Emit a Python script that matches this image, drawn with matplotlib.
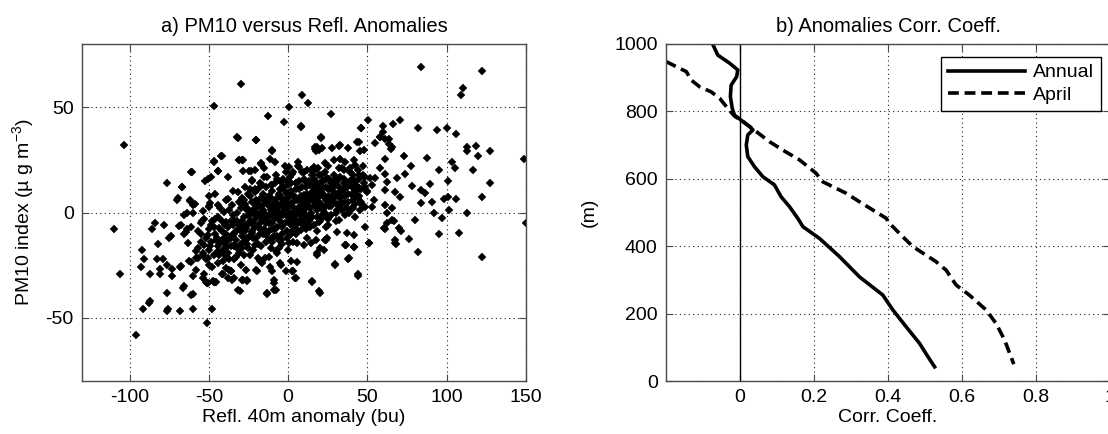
import matplotlib
matplotlib.use("Agg")
import matplotlib.pyplot as plt
import numpy as np

plt.rcParams['font.family'] = ['Liberation Sans', 'DejaVu Sans']
plt.rcParams['mathtext.fontset'] = 'custom'
plt.rcParams['mathtext.rm'] = 'Liberation Sans'
plt.rcParams['axes.unicode_minus'] = False

## panel a) scatter, (refl. anomaly [bu], PM10 index)
outlier_pts = [
    (-110, -7.8), (-106, -29), (-103.5, 32), (-96, -58), (-92, -18), (-91, -22), (-92.5, -26),
    (-91.5, -46), (-87.5, -43), (-87, -42), (-87, -29), (-86, -8), (-84, -5), (-83, -22),
    (-82, -15), (-81, -27), (-80.5, -29), (-79, -22), (-78, -6), (-76.6, -25), (-76.4, -38),
    (-76.4, -47), (-76.4, 14), (-75.7, -46), (-75, -12), (-74, -11), (-73, -30), (-73.5, -27),
    (-70, 6), (-69, -6.5), (-68, -47), (-68, -26), (-67, 12), (-66, -36), (-65.5, -10), (-64, -8),
    (-64, 0), (-62.6, -23), (-62, 6), (-61, -39), (-61, 19), (-60, -46), (-59.7, -30), (-60, 0),
    (-59, 4), (-58, -21.5), (-57, -17), (-55, -10), (-54.5, -4), (-54, -20), (-53, -29),
    (-52.7, 15), (-52, -33), (-51, -52.5), (-51, -33.6), (-49, 4.6), (-48, -45.6), (-47, 50.7),
    (-47, 24), (-47, -33), (-46, -33), (-44.5, 19.6), (-42.5, 27), (-41, -29), (-40, -19),
    (-37, -27.5), (-35.5, -32), (-32, 36), (-30.5, -37.5), (-30, 61), (-31, 25), (-29, 25),
    (-28.5, -32), (-26, -32.7), (-24.4, 19.5), (-20, 34.5), (-19.7, -27.6), (-17.4, 23),
    (-13.5, -38.5), (-13, 46), (-14.7, -21.7), (-11.5, -25.7), (-10, 29), (-9, -33.4),
    (-7.7, -37), (-5, -24), (-2.7, 43), (0.5, 50), (2, -23), (3, -28), (4.7, -31), (8, 41),
    (9, 56), (12.4, 52), (15, -33), (16.7, 30), (18.3, -20), (20, -38), (21, 35.7), (23.5, -13),
    (27, 46.6), (29.4, -25), (33, 32), (36.6, -15.5), (38, -22), (41.4, -16.6), (44, -30),
    (46, 40), (50.4, 44), (51, -14.3), (58, 36), (60, 41), (61, -8), (63.5, 35), (64.6, 30),
    (66, 42), (66.5, -4), (68, -15), (71, -8.6), (70.8, 44), (73, 27), (76.4, -12.5), (77.5, 22),
    (77.8, 12.8), (80, -3.6), (81.6, 40), (82, -18.7), (84, 69), (84, 4.6), (86, 9.4), (87.7, 26),
    (89.5, 13.6), (91, 5), (91.8, 0), (93.6, 39), (95, -10), (97, -2.5), (100, 40), (101, 7.3),
    (101.7, 1), (103.3, 24), (105, 21), (106, 6.2), (106, 37.4), (108, -9.8), (109, 56), (110, 59),
    (113, 29), (113, 31), (112.8, 0), (116.4, 20), (118.7, 31.5), (120, 27), (122, 67), (122, 7.3),
    (122.5, -21), (127, 13.8), (127, 29.3), (149, 25.5), (150, -5), (6.5, 22), (17, 31),
    (44.8, 33.4), (54.7, 33), (74, 18.4), (84, 10.8), (95, 20), (98.6, 6.5), (101, 15),
]

left_cloud_pts = [
    (-31.9, 35.6), (-20.4, 34.6), (-10.4, 29.6), (-41.8, 26.9), (-46.6, 24.4), (-30.9, 24.9),
    (-28.2, 24.9), (-11.6, 25.3), (-60.6, 19), (-44.5, 19.8), (-28.4, 19.8), (-23.6, 19.8),
    (-17.3, 23.3), (-38.2, 17), (-50.4, 16), (-48.7, 17), (-13.1, 17), (-7.9, 18), (-1.6, 19.3),
    (-66.9, 11.9), (-22.5, 15.4), (-24.2, 11.1), (-21, 9.9), (-16.2, 13), (-9.9, 13), (-4.7, 14.6),
    (-69.6, 6.7), (-61.7, 5.4), (-59.8, 3.6), (-50.1, 7.8), (-49.7, 2.8), (-53.9, 0.7),
    (-44.5, 3.6), (-38.2, 6.4), (-31.9, 9.9), (-35.1, 3.6), (-40.3, 0.4), (-27.7, 6), (-25.7, 2),
    (-19.4, 5.1), (-16.2, 6.7), (-13.1, 5.1), (-20.4, 0.4), (-17.3, -0.4), (-14.1, -1.2),
    (-9.9, -0.4), (-5.8, -1.2), (-1.6, 0.4), (-7.9, 3.6), (-3.7, 4.3), (-65.4, -1.2),
    (-67.5, -5.9), (-61.2, -6.7), (-54.9, -5.1), (-64.4, -9.1), (-48.7, -5.9), (-50.8, -10.7),
    (-43.5, -7.5), (-39.3, -4.3), (-34, -3.6), (-30.9, -5.9), (-45.5, -13), (-40.3, -12.2),
    (-35.1, -10.7), (-26.7, -7.5), (-22, -5.9), (-17.3, -8.3), (-12, -5.1), (-7.9, -7.5),
    (-3.7, -5.9), (0.5, -4.3), (-14.1, -10.7), (-9.9, -12.2), (-4.7, -13), (-22.5, -9.9),
    (-26.7, -13), (-52.8, -15.4), (-48.7, -13.8), (-63.3, -14.6), (-58.1, -18.5), (-53.9, -19.3),
    (-49.7, -17.7), (-44.5, -18.5), (-39.3, -17), (-61.2, -23.3), (-57, -21.7), (-50.8, -21.7),
    (-43.5, -20.1), (-34, -15.4), (-28.8, -17), (-33, -20.9), (-21, -15.4), (-18.9, -21.7),
    (-7.4, -18.5), (-67.5, -25.6), (-58.1, -27.2), (-49.7, -24.9), (-39.3, -26.4), (-36.1, -28),
    (-34, -31.2), (-38.2, -31.2), (-26.7, -27.2), (-20.4, -27.2), (-16.2, -24.1), (-9.9, -28),
    (-8.9, -32), (-53.9, -31.2), (-50.8, -33.5), (-47.6, -32.4), (-45.5, -32.8), (-28.8, -32),
    (-25.7, -32), (-65.4, -35.1), (-60.2, -38.7), (-31.9, -36.7), (-13.1, -38.3), (-8.9, -36.7),
    (-4.7, -24.9), (-1.6, -28), (-6.8, -19.3),
]

right_cloud_pts = [
    (7.9, 40.6), (46.2, 40.2), (59.8, 38.3), (58.1, 35.9), (61.2, 35.1), (65.4, 31.2), (63.3, 32.7),
    (21, 35.4), (18.3, 31.2), (19.4, 29.6), (17.3, 29.1), (21.5, 30.4), (27.7, 30.4), (32.3, 31.6),
    (37.8, 30.7), (43.4, 33.5), (45.5, 29.1), (47.6, 29.6), (60.8, 25.6), (58.1, 20.9), (23.1, 23.3),
    (28.8, 24.9), (33, 25.6), (36.1, 24.1), (41.4, 24.9), (42.4, 22.5), (16.2, 21.7), (6.8, 21.7),
    (0.5, 21.7), (31.9, 20.9), (35.1, 20.1), (39.3, 20.9), (47, 22.2), (2.6, 18.5), (10, 19.3),
    (14.1, 20.1), (19.4, 17.7), (24.6, 16.2), (29.8, 15.4), (35.1, 13.8), (40.3, 15.4), (44.5, 17.7),
    (48.7, 16.9), (51.8, 16.2), (55, 16.2), (61.2, 18.5), (62.3, 14.6), (68.6, 16.2), (48.7, 12.2),
    (49.7, 9.9), (53.9, 5.9), (61.2, 10.7), (67.5, 9.9), (61.2, 3.6), (65.4, 2), (62.3, -0.4),
    (70.7, 7.5), (46.6, 3.6), (48.7, 2.8), (65.4, -3.6), (62.3, -5.1), (60.2, -7.5), (69.6, -7.5),
    (67.5, -13), (67.5, -14.6), (0.5, -14.6), (5.8, -14.6), (10, -15.4), (14.1, -14.6), (17.3, -13),
    (23.6, -13), (24.6, -12.2), (20.4, -17), (18.3, -19.3), (22.5, -17.7), (37.2, -9.9),
    (41.4, -10.7), (36.1, -15.4), (41.4, -16.2), (50.8, -14.6), (48.7, -6.7), (5.8, -23.3),
    (2.2, -28), (4.3, -31.2), (29.4, -24.5), (38.2, -21.7), (44.1, -29.3), (14.8, -32.7),
    (19.4, -37.5), (25.2, -5.9), (13.1, -5.9), (19.4, -4.3), (30.9, -9.1), (31.9, -3.6), (25.6, -2),
    (38.2, -0.4), (42.4, -2), (45.5, 1.2), (52.9, 2.8), (36.1, 4.3), (40.3, 8.3), (44.5, 11.4),
    (33, 9.9), (27.7, 7.5), (23.6, 5.9), (19.4, 9.9), (15.2, 9.1), (9.9, 8.3), (4.7, 5.9), (11, 3.6),
    (6.8, 1.2), (2.6, -1.2), (14.1, -0.4), (18.3, 2), (21.5, -1.2), (11, -3.6), (4.7, -5.1),
    (7.9, -8.3), (1.6, -9.1), (-0.5, 14.6), (4.7, 13.8), (11, 14.6), (16.2, 13), (21.5, 12.2),
    (27.7, 11.4), (35.1, 11.4),
]

# the black blob in the middle, where single dots can't be told apart
core_pts = [
    (-45, -12), (-42, -9), (-40, -15), (-38, -7), (-36, -12), (-35, -1), (-33, -9), (-32, -4),
    (-30, 2), (-29, -11), (-28, -2), (-27, 4), (-26, -6), (-25, -1), (-24, 8), (-23, -9), (-22, 1),
    (-21, -3), (-20, 6), (-19, -7), (-18, 3), (-17, -2), (-16, 9), (-15, 0), (-14, -5), (-13, 4),
    (-12, -1), (-11, 7), (-10, 2), (-9, -3), (-8, 5), (-7, 1), (-6, -2), (-5, 8), (-4, 3), (-3, -1),
    (-2, 6), (-1, 2), (0, -2), (1, 9), (2, 4), (3, 0), (4, -3), (5, 7), (6, 2), (7, 11), (8, -1),
    (9, 5), (10, 1), (11, 12), (12, 6), (13, 3), (14, 9), (15, -2), (16, 5), (17, 10), (18, 1),
    (19, 7), (20, 14), (21, 4), (22, 9), (23, 0), (24, 12), (25, 6), (26, 16), (27, 3), (28, 10),
    (29, 7), (30, 13), (31, 1), (32, 8), (33, 17), (34, 5), (35, 11), (36, 14), (37, 2), (38, 9),
    (39, 19), (40, 12), (41, 6), (42, 15), (43, 10), (44, 20), (45, 8), (-47, -20), (-44, -24),
    (-41, -18), (-37, -22), (-34, -16), (-31, -19), (-28, -14), (-25, -17), (-22, -12), (-19, -15),
    (-16, -10), (-13, -13), (-10, -8), (-7, -11), (-4, -7), (-1, -9), (2, -6), (5, -10), (8, -5),
    (11, -8), (14, -3), (-50, -8), (-46, -3), (-43, 2), (-39, 6), (-35, 10), (-31, 5), (-27, 12),
    (-23, 15), (-19, 11), (-15, 17), (-11, 13), (-7, 16), (-3, 12), (1, 17), (5, 14), (9, 19),
    (13, 15), (17, 20), (21, 18), (25, 22), (3, -14), (0, -18), (-6, -17), (-12, -21), (-18, -23),
    (-24, -20), (-30, -25), (-36, -28), (-42, -29), (-48, -26), (-52, -22), (-55, -14), (-57, -9),
    (-53, -3), (-50, 3), (-46, 9), (-2, 22), (6, 24), (12, -12), (18, -9), (24, -7), (30, -4),
    (36, -1), (41, 2), (46, 5), (50, 10), (53, 13), (47, 18), (-8, 24), (-15, 21), (-21, 20),
]

core_pts2 = [
    (-52, -12), (-49, -16), (-47, -7), (-45, -19), (-44, -2), (-43, -14), (-41, -23), (-40, -6),
    (-39, -10), (-38, -19), (-37, 1), (-36, -16), (-35, -6), (-34, -22), (-33, -13), (-32, 0),
    (-31, -8), (-30, -15), (-29, -4), (-29, 7), (-28, -20), (-27, -9), (-26, 1), (-26, -15),
    (-25, 9), (-24, -4), (-24, -11), (-23, 5), (-22, -18), (-21, -7), (-21, 11), (-20, -1),
    (-20, -12), (-19, 3), (-18, -5), (-18, 14), (-17, -16), (-17, 7), (-16, -3), (-15, -8),
    (-15, 4), (-14, 12), (-14, -14), (-13, -2), (-12, 8), (-12, -9), (-11, 1), (-11, -17),
    (-10, 10), (-10, -5), (-9, 4), (-9, -11), (-8, -1), (-8, 14), (-7, -7), (-7, 7), (-6, 3),
    (-6, -13), (-5, -4), (-5, 11), (-4, 0), (-4, -10), (-3, 6), (-3, 16), (-2, -5), (-2, 2),
    (-1, -12), (-1, 9), (0, 4), (0, 13), (1, -3), (1, 0), (2, 10), (2, -10), (3, 5), (3, 19),
    (4, -7), (4, 2), (5, 11), (5, -1), (6, 6), (6, -5), (7, 15), (7, 2), (8, -3), (8, 8), (9, 12),
    (9, 1), (10, -6), (10, 16), (11, 4), (11, -1), (12, 9), (12, 20), (13, -4), (13, 6), (14, 13),
    (14, 2), (15, 8), (15, 18), (16, -6), (16, 11), (17, 3), (17, 15), (18, -2), (18, 8), (19, 12),
    (19, 21), (20, 4), (20, -4), (21, 10), (22, 15), (22, 1), (23, 7), (23, 19), (24, 3), (25, 11),
    (25, -3), (26, 8), (27, 14), (27, -1), (28, 5), (29, 18), (30, 9), (31, 15), (31, 4), (32, 12),
    (33, 7), (34, 21), (34, 1), (35, 16), (36, 8), (37, 12), (38, 5), (39, 15), (40, 9), (41, 18),
    (42, 4), (43, 13), (44, 7), (45, 16), (46, 11), (48, 14), (-48, -4), (-46, -10), (-44, -16),
    (-42, -4), (-40, -20), (-38, -13), (-36, -4), (-34, -10), (-32, -17), (-30, -9), (-28, -6),
    (-26, -12), (-24, -1), (-22, -5), (-20, 3), (-18, -10), (-16, 1), (-14, 6), (-12, 3),
    (-10, -14), (-8, -8), (-6, 9), (-4, -15), (-2, 10), (0, 7), (2, 14), (4, 8), (6, -9), (8, 3),
    (10, 7), (12, -2), (14, -7), (16, 16), (18, 5), (20, 9), (22, -2), (24, 16), (26, 3), (28, 13),
    (30, 0), (32, 3), (34, 10), (36, 4), (38, 13), (40, 2), (42, 9),
]

## panel b) correlation profiles, height (m) vs corr. coeff.
height_annual = [1000, 967, 943, 923, 903, 878, 844, 809, 789, 774, 755, 745, 730, 700, 666, 636,
                 606, 582, 547, 517, 483, 458, 423, 369, 309, 255, 211, 161, 112, 72, 42]
corr_annual = [-0.074, -0.06, -0.028, -0.006, -0.009, -0.024, -0.026, -0.021, -0.015, 0.003, 0.026,
               0.035, 0.021, 0.017, 0.021, 0.039, 0.062, 0.093, 0.111, 0.134, 0.156, 0.17, 0.215,
               0.269, 0.323, 0.386, 0.413, 0.449, 0.485, 0.508, 0.526]
height_april = [948, 918, 893, 873, 858, 839, 809, 786, 770, 740, 710, 685, 656, 617, 591, 557, 527,
                483, 468, 428, 399, 354, 329, 285, 255, 211, 171, 122, 50]
corr_april = [-0.2, -0.145, -0.132, -0.109, -0.078, -0.055, -0.033, -0.015, 0.008, 0.044, 0.08,
              0.116, 0.161, 0.205, 0.224, 0.287, 0.33, 0.395, 0.404, 0.44, 0.467, 0.53, 0.557,
              0.584, 0.62, 0.665, 0.692, 0.715, 0.74]

pts = np.array(outlier_pts + left_cloud_pts + right_cloud_pts + core_pts + core_pts2)
refl_anom = pts[:, 0]
pm10_index = pts[:, 1]

FS = 14
W, H = 1108, 434
fig = plt.figure(figsize=(W / 100, H / 100), dpi=100)
ax1 = fig.add_axes([82 / W, 53 / H, 444 / W, 337 / H])
ax2 = fig.add_axes([666 / W, 53 / H, 444 / W, 337 / H])


def matlab_style(ax):
    for s in ax.spines.values():
        s.set_color('#4a4a4a')
        s.set_linewidth(1.0)
    ax.tick_params(direction='in', length=5, width=0.8, color='#4a4a4a',
                   top=True, right=True, labelsize=FS, pad=6)
    ax.grid(True, linestyle=(0, (1, 3)), color='#222222', linewidth=0.8)
    ax.set_axisbelow(True)


## a)
ax1.plot(refl_anom, pm10_index, linestyle='none', marker='D', ms=3.7, mfc='k', mec='k', mew=0.3)
ax1.set_xlim(-130, 150)
ax1.set_ylim(-80, 80)
ax1.set_xticks([-100, -50, 0, 50, 100, 150])
ax1.set_yticks([-50, 0, 50])
matlab_style(ax1)
ax1.set_title('a) PM10 versus Refl. Anomalies', fontsize=14.5, pad=9)
ax1.set_xlabel('Refl. 40m anomaly (bu)', fontsize=FS, labelpad=2)
ax1.set_ylabel('PM10 index (\u00b5 g m$^{-3}$)', fontsize=FS, labelpad=6)

## b)
ax2.axvline(0, color='k', linewidth=1.0)
ax2.plot(corr_annual, height_annual, 'k-', linewidth=2.6, label='Annual')
ax2.plot(corr_april, height_april, 'k--', linewidth=2.6, dashes=(3, 1.6), label='April')
ax2.set_xlim(-0.2, 1.0)
ax2.set_ylim(0, 1000)
ax2.set_xticks([0, 0.2, 0.4, 0.6, 0.8, 1.0])
ax2.set_xticklabels(['0', '0.2', '0.4', '0.6', '0.8', '1'])
ax2.set_yticks([0, 200, 400, 600, 800, 1000])
matlab_style(ax2)
ax2.set_title('b) Anomalies Corr. Coeff.', fontsize=14.5, pad=9)
ax2.set_xlabel('Corr. Coeff.', fontsize=FS, labelpad=2)
ax2.set_ylabel('(m)', fontsize=FS, labelpad=12)
leg = ax2.legend(loc='upper right', bbox_to_anchor=(1101 / W, 1 - 57 / H),
                 bbox_transform=fig.transFigure, borderaxespad=0, fancybox=False,
                 edgecolor='k', framealpha=1, fontsize=FS, handlelength=4.0,
                 handletextpad=0.4, borderpad=0.35, labelspacing=0.25)
leg.get_frame().set_linewidth(1.0)

fig.savefig('out.png', dpi=100)
